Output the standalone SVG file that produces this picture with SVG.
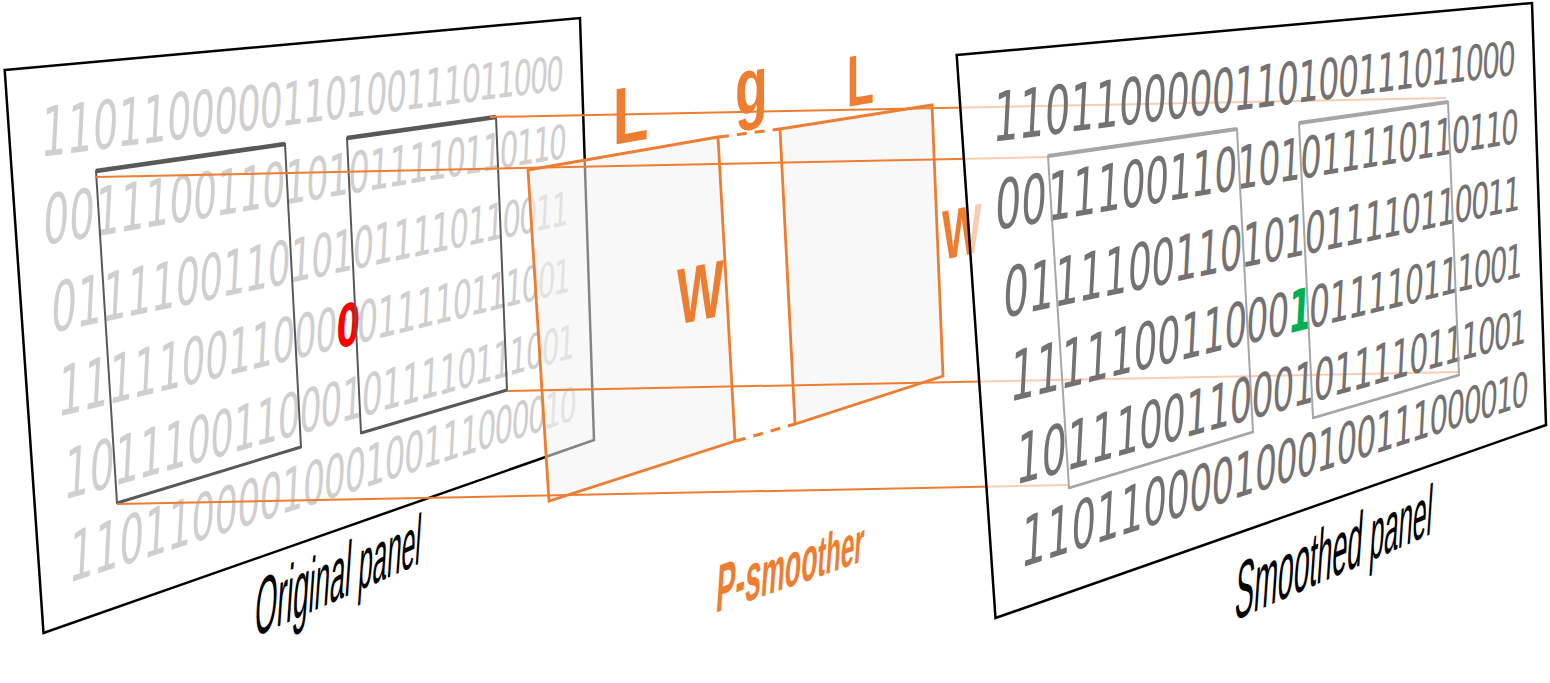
<svg xmlns="http://www.w3.org/2000/svg" width="1550" height="683" viewBox="0 0 1550 683">
<style>
.panel{fill:#fff;stroke:#000;stroke-width:2.5}
.panel2{fill:#fff;fill-opacity:0.62;stroke:#000;stroke-width:2.5}
.row{font-family:"DejaVu Sans",sans-serif}
.o .row{fill:#D0CECE}
.s .row{fill:#767171}
.row tspan:nth-child(1){font-size:15.7px}
.row tspan:nth-child(2){font-size:15.49px}
.row tspan:nth-child(3){font-size:15.28px}
.row tspan:nth-child(4){font-size:15.07px}
.row tspan:nth-child(5){font-size:14.86px}
.row tspan:nth-child(6){font-size:14.65px}
.row tspan:nth-child(7){font-size:14.44px}
.row tspan:nth-child(8){font-size:14.23px}
.row tspan:nth-child(9){font-size:14.03px}
.row tspan:nth-child(10){font-size:13.82px}
.row tspan:nth-child(11){font-size:13.61px}
.row tspan:nth-child(12){font-size:13.4px}
.row tspan:nth-child(13){font-size:13.19px}
.row tspan:nth-child(14){font-size:12.98px}
.row tspan:nth-child(15){font-size:12.77px}
.row tspan:nth-child(16){font-size:12.56px}
.row tspan:nth-child(17){font-size:12.35px}
.row tspan:nth-child(18){font-size:12.14px}
.row tspan:nth-child(19){font-size:11.93px}
.row tspan:nth-child(20){font-size:11.72px}
.row tspan:nth-child(21){font-size:11.51px}
.row tspan:nth-child(22){font-size:11.3px}
.row tspan:nth-child(23){font-size:11.1px}
.row tspan:nth-child(24){font-size:10.89px}
.row tspan:nth-child(25){font-size:10.68px}
.red{fill:#FF0000;font-weight:bold}
.grn{fill:#00B050;font-weight:bold}
.box1{fill:none;stroke:#595959;stroke-width:2}
.edge1{fill:none;stroke:#595959;stroke-width:3}
.top1{fill:none;stroke:#595959;stroke-width:4.5}
.box2{fill:none;stroke:#A6A6A6;stroke-width:2}
.edge2{fill:none;stroke:#A6A6A6;stroke-width:2.6}
.top2{fill:none;stroke:#A6A6A6;stroke-width:4}
.slab{fill:#F2F2F2;fill-opacity:0.55;stroke:#ED7D31;stroke-width:2.8}
.dash{fill:none;stroke:#ED7D31;stroke-width:3;stroke-dasharray:10 8}
.conn{fill:none;stroke:#ED7D31;stroke-width:2}
.lab{font-family:"Liberation Sans",Arial,sans-serif;font-weight:bold;fill:#ED7D31}
.cap{font-family:"Liberation Sans",Arial,sans-serif;fill:#000}
</style>

<g id="original-panel" class="o">
<polygon class="panel" points="4.7,70 580,18 594,440 43.5,633"/>
<text class="row" x="0 10 19.83 29.5 39 48.33 57.5 66.5 75.33 84 92.5 100.83 109 117 124.83 132.5 140 147.33 154.5 161.5 168.33 175 181.5 187.83 194" y="0" transform="translate(40 157) skewY(-7.33) skewX(-3) scale(2.605 4.37)"><tspan>1</tspan><tspan>1</tspan><tspan>0</tspan><tspan>1</tspan><tspan>1</tspan><tspan>0</tspan><tspan>0</tspan><tspan>0</tspan><tspan>0</tspan><tspan>0</tspan><tspan>1</tspan><tspan>1</tspan><tspan>0</tspan><tspan>1</tspan><tspan>0</tspan><tspan>0</tspan><tspan>1</tspan><tspan>1</tspan><tspan>1</tspan><tspan>0</tspan><tspan>1</tspan><tspan>1</tspan><tspan>0</tspan><tspan>0</tspan><tspan>0</tspan></text>
<text class="row" x="0 10 19.83 29.5 39 48.33 57.5 66.5 75.33 84 92.5 100.83 109 117 124.83 132.5 140 147.33 154.5 161.5 168.33 175 181.5 187.83 194" y="0" transform="translate(42 245) skewY(-9.46) skewX(-3) scale(2.61 4.37)"><tspan>0</tspan><tspan>0</tspan><tspan>1</tspan><tspan>1</tspan><tspan>1</tspan><tspan>0</tspan><tspan>0</tspan><tspan>1</tspan><tspan>1</tspan><tspan>0</tspan><tspan>1</tspan><tspan>0</tspan><tspan>1</tspan><tspan>0</tspan><tspan>1</tspan><tspan>1</tspan><tspan>1</tspan><tspan>1</tspan><tspan>0</tspan><tspan>1</tspan><tspan>1</tspan><tspan>0</tspan><tspan>1</tspan><tspan>1</tspan><tspan>0</tspan></text>
<text class="row" x="0 10 19.83 29.5 39 48.33 57.5 66.5 75.33 84 92.5 100.83 109 117 124.83 132.5 140 147.33 154.5 161.5 168.33 175 181.5 187.83 194" y="0" transform="translate(50 333) skewY(-11.82) skewX(-3) scale(2.58 4.37)"><tspan>0</tspan><tspan>1</tspan><tspan>1</tspan><tspan>1</tspan><tspan>1</tspan><tspan>0</tspan><tspan>0</tspan><tspan>1</tspan><tspan>1</tspan><tspan>0</tspan><tspan>1</tspan><tspan>0</tspan><tspan>1</tspan><tspan>0</tspan><tspan>1</tspan><tspan>1</tspan><tspan>1</tspan><tspan>1</tspan><tspan>0</tspan><tspan>1</tspan><tspan>1</tspan><tspan>0</tspan><tspan>0</tspan><tspan>1</tspan><tspan>1</tspan></text>
<text class="row" x="0 10 19.83 29.5 39 48.33 57.5 66.5 75.33 84 92.5 100.83 109 117 124.83 132.5 140 147.33 154.5 161.5 168.33 175 181.5 187.83 194" y="0" transform="translate(57 417) skewY(-13.75) skewX(-3) scale(2.555 4.37)"><tspan>1</tspan><tspan>1</tspan><tspan>1</tspan><tspan>1</tspan><tspan>1</tspan><tspan>0</tspan><tspan>0</tspan><tspan>1</tspan><tspan>1</tspan><tspan>0</tspan><tspan>0</tspan><tspan>0</tspan><tspan class="red">0</tspan><tspan>0</tspan><tspan>1</tspan><tspan>1</tspan><tspan>1</tspan><tspan>1</tspan><tspan>0</tspan><tspan>1</tspan><tspan>1</tspan><tspan>1</tspan><tspan>0</tspan><tspan>0</tspan><tspan>1</tspan></text>
<text class="row" x="0 10 19.83 29.5 39 48.33 57.5 66.5 75.33 84 92.5 100.83 109 117 124.83 132.5 140 147.33 154.5 161.5 168.33 175 181.5 187.83 194" y="0" transform="translate(63 500) skewY(-15.59) skewX(-3) scale(2.545 4.37)"><tspan>1</tspan><tspan>0</tspan><tspan>1</tspan><tspan>1</tspan><tspan>1</tspan><tspan>0</tspan><tspan>0</tspan><tspan>1</tspan><tspan>1</tspan><tspan>0</tspan><tspan>0</tspan><tspan>0</tspan><tspan>1</tspan><tspan>0</tspan><tspan>1</tspan><tspan>1</tspan><tspan>1</tspan><tspan>1</tspan><tspan>0</tspan><tspan>1</tspan><tspan>1</tspan><tspan>1</tspan><tspan>0</tspan><tspan>0</tspan><tspan>1</tspan></text>
<text class="row" x="0 10 19.83 29.5 39 48.33 57.5 66.5 75.33 84 92.5 100.83 109 117 124.83 132.5 140 147.33 154.5 161.5 168.33 175 181.5 187.83 194" y="0" transform="translate(68 583) skewY(-17.85) skewX(-3) scale(2.53 4.37)"><tspan>1</tspan><tspan>1</tspan><tspan>0</tspan><tspan>1</tspan><tspan>1</tspan><tspan>0</tspan><tspan>0</tspan><tspan>0</tspan><tspan>0</tspan><tspan>1</tspan><tspan>0</tspan><tspan>0</tspan><tspan>0</tspan><tspan>1</tspan><tspan>0</tspan><tspan>0</tspan><tspan>1</tspan><tspan>1</tspan><tspan>1</tspan><tspan>0</tspan><tspan>0</tspan><tspan>0</tspan><tspan>0</tspan><tspan>1</tspan><tspan>0</tspan></text>
<polygon class="box1" points="96,171 285,144 301,447 117,503"/>
<line class="top1" x1="96" y1="171" x2="285" y2="144"/>
<line class="edge1" x1="117" y1="503" x2="301" y2="447"/>
<polygon class="box1" points="347,138 496,117 507,390 361,433"/>
<line class="top1" x1="347" y1="138" x2="496" y2="117"/>
<line class="edge1" x1="361" y1="433" x2="507" y2="390"/>
<text class="cap" transform="translate(253.6 637.5) skewY(-24) skewX(-4) scale(0.357 1)"><tspan font-size="80">Orig</tspan><tspan font-size="76">inal </tspan><tspan font-size="72">pan</tspan><tspan font-size="70">el</tspan></text>
</g>

<g id="p-smoother">
<polygon class="slab" points="528,170 718,137 735,441 549,501"/>
<polygon class="slab" points="780,129 932,105 943,376 795,424"/>
<line class="dash" x1="719" y1="137" x2="780" y2="129"/>
<line class="dash" x1="736" y1="441" x2="795" y2="424"/>
<text class="lab" font-size="80" transform="translate(612.7 145) skewY(-10) scale(0.73 1)">L</text>
<text class="lab" font-size="80" transform="translate(735 116) skewY(-10) scale(0.67 1)">g</text>
<text class="lab" font-size="72" transform="translate(846.7 107) skewY(-10) scale(0.62 1)">L</text>
<text class="lab" font-size="80" transform="translate(677 325) skewY(-12) scale(0.62 1)">W</text>
<text class="lab" font-size="70" transform="translate(942 260) skewY(-12) scale(0.6 1)">W</text>
<text class="lab" transform="translate(715 613) skewY(-19.3) skewX(-4) scale(0.4316 1)"><tspan font-size="67">P-s</tspan><tspan font-size="62">moo</tspan><tspan font-size="57">ther</tspan></text>
</g>

<g id="connectors">
<line class="conn" x1="490" y1="117" x2="1446" y2="98"/>
<line class="conn" x1="96" y1="177" x2="1048" y2="157"/>
<line class="conn" x1="507" y1="391" x2="1459" y2="372"/>
<line class="conn" x1="117" y1="504" x2="1069" y2="485"/>
</g>

<g id="smoothed-panel" class="s">
<g transform="translate(952 -15)">
<polygon class="panel2" points="4.7,70 580,18 594,440 43.5,633"/>
<text class="row" x="0 10 19.83 29.5 39 48.33 57.5 66.5 75.33 84 92.5 100.83 109 117 124.83 132.5 140 147.33 154.5 161.5 168.33 175 181.5 187.83 194" y="0" transform="translate(40 157) skewY(-7.33) skewX(-3) scale(2.605 4.37)"><tspan>1</tspan><tspan>1</tspan><tspan>0</tspan><tspan>1</tspan><tspan>1</tspan><tspan>0</tspan><tspan>0</tspan><tspan>0</tspan><tspan>0</tspan><tspan>0</tspan><tspan>1</tspan><tspan>1</tspan><tspan>0</tspan><tspan>1</tspan><tspan>0</tspan><tspan>0</tspan><tspan>1</tspan><tspan>1</tspan><tspan>1</tspan><tspan>0</tspan><tspan>1</tspan><tspan>1</tspan><tspan>0</tspan><tspan>0</tspan><tspan>0</tspan></text>
<text class="row" x="0 10 19.83 29.5 39 48.33 57.5 66.5 75.33 84 92.5 100.83 109 117 124.83 132.5 140 147.33 154.5 161.5 168.33 175 181.5 187.83 194" y="0" transform="translate(42 245) skewY(-9.46) skewX(-3) scale(2.61 4.37)"><tspan>0</tspan><tspan>0</tspan><tspan>1</tspan><tspan>1</tspan><tspan>1</tspan><tspan>0</tspan><tspan>0</tspan><tspan>1</tspan><tspan>1</tspan><tspan>0</tspan><tspan>1</tspan><tspan>0</tspan><tspan>1</tspan><tspan>0</tspan><tspan>1</tspan><tspan>1</tspan><tspan>1</tspan><tspan>1</tspan><tspan>0</tspan><tspan>1</tspan><tspan>1</tspan><tspan>0</tspan><tspan>1</tspan><tspan>1</tspan><tspan>0</tspan></text>
<text class="row" x="0 10 19.83 29.5 39 48.33 57.5 66.5 75.33 84 92.5 100.83 109 117 124.83 132.5 140 147.33 154.5 161.5 168.33 175 181.5 187.83 194" y="0" transform="translate(50 333) skewY(-11.82) skewX(-3) scale(2.58 4.37)"><tspan>0</tspan><tspan>1</tspan><tspan>1</tspan><tspan>1</tspan><tspan>1</tspan><tspan>0</tspan><tspan>0</tspan><tspan>1</tspan><tspan>1</tspan><tspan>0</tspan><tspan>1</tspan><tspan>0</tspan><tspan>1</tspan><tspan>0</tspan><tspan>1</tspan><tspan>1</tspan><tspan>1</tspan><tspan>1</tspan><tspan>0</tspan><tspan>1</tspan><tspan>1</tspan><tspan>0</tspan><tspan>0</tspan><tspan>1</tspan><tspan>1</tspan></text>
<text class="row" x="0 10 19.83 29.5 39 48.33 57.5 66.5 75.33 84 92.5 100.83 109 117 124.83 132.5 140 147.33 154.5 161.5 168.33 175 181.5 187.83 194" y="0" transform="translate(57 417) skewY(-13.75) skewX(-3) scale(2.555 4.37)"><tspan>1</tspan><tspan>1</tspan><tspan>1</tspan><tspan>1</tspan><tspan>1</tspan><tspan>0</tspan><tspan>0</tspan><tspan>1</tspan><tspan>1</tspan><tspan>0</tspan><tspan>0</tspan><tspan>0</tspan><tspan class="grn">1</tspan><tspan>0</tspan><tspan>1</tspan><tspan>1</tspan><tspan>1</tspan><tspan>1</tspan><tspan>0</tspan><tspan>1</tspan><tspan>1</tspan><tspan>1</tspan><tspan>0</tspan><tspan>0</tspan><tspan>1</tspan></text>
<text class="row" x="0 10 19.83 29.5 39 48.33 57.5 66.5 75.33 84 92.5 100.83 109 117 124.83 132.5 140 147.33 154.5 161.5 168.33 175 181.5 187.83 194" y="0" transform="translate(63 500) skewY(-15.59) skewX(-3) scale(2.545 4.37)"><tspan>1</tspan><tspan>0</tspan><tspan>1</tspan><tspan>1</tspan><tspan>1</tspan><tspan>0</tspan><tspan>0</tspan><tspan>1</tspan><tspan>1</tspan><tspan>0</tspan><tspan>0</tspan><tspan>0</tspan><tspan>1</tspan><tspan>0</tspan><tspan>1</tspan><tspan>1</tspan><tspan>1</tspan><tspan>1</tspan><tspan>0</tspan><tspan>1</tspan><tspan>1</tspan><tspan>1</tspan><tspan>0</tspan><tspan>0</tspan><tspan>1</tspan></text>
<text class="row" x="0 10 19.83 29.5 39 48.33 57.5 66.5 75.33 84 92.5 100.83 109 117 124.83 132.5 140 147.33 154.5 161.5 168.33 175 181.5 187.83 194" y="0" transform="translate(68 583) skewY(-17.85) skewX(-3) scale(2.53 4.37)"><tspan>1</tspan><tspan>1</tspan><tspan>0</tspan><tspan>1</tspan><tspan>1</tspan><tspan>0</tspan><tspan>0</tspan><tspan>0</tspan><tspan>0</tspan><tspan>1</tspan><tspan>0</tspan><tspan>0</tspan><tspan>0</tspan><tspan>1</tspan><tspan>0</tspan><tspan>0</tspan><tspan>1</tspan><tspan>1</tspan><tspan>1</tspan><tspan>0</tspan><tspan>0</tspan><tspan>0</tspan><tspan>0</tspan><tspan>1</tspan><tspan>0</tspan></text>
<polygon class="box2" points="96,171 285,144 301,447 117,503"/>
<line class="top2" x1="96" y1="171" x2="285" y2="144"/>
<line class="edge2" x1="117" y1="503" x2="301" y2="447"/>
<polygon class="box2" points="347,138 496,117 507,390 361,433"/>
<line class="top2" x1="347" y1="138" x2="496" y2="117"/>
<line class="edge2" x1="361" y1="433" x2="507" y2="390"/>
</g>
<text class="cap" transform="translate(1233.7 621) skewY(-23.8) skewX(-4) scale(0.357 1)"><tspan font-size="80">Smoo</tspan><tspan font-size="76">thed </tspan><tspan font-size="72">pan</tspan><tspan font-size="70">el</tspan></text>
</g>
</svg>
